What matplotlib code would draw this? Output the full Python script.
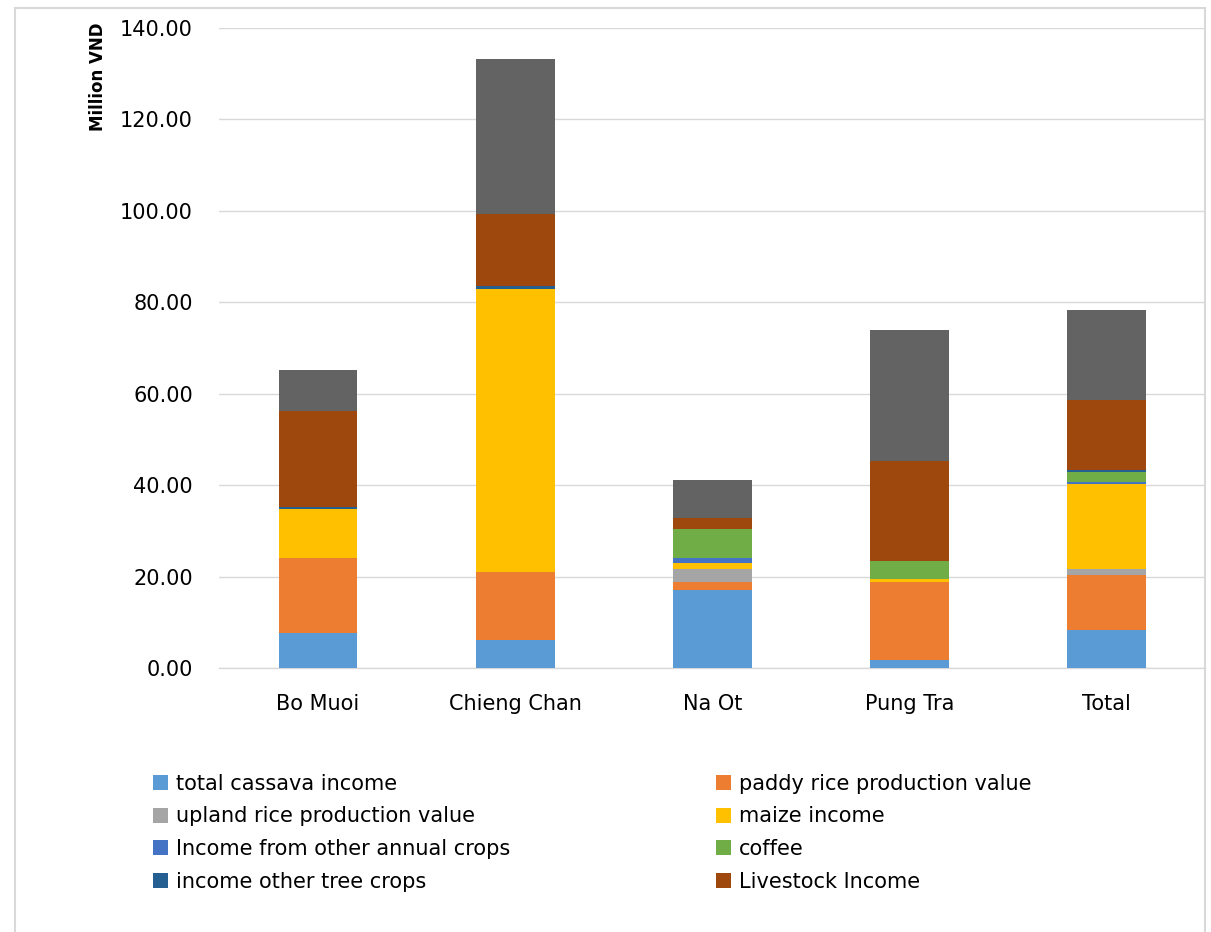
import numpy as np
import matplotlib
matplotlib.use("Agg")
from matplotlib import pyplot as plt
from matplotlib.patches import Rectangle, Patch

# 数据 (Million VND)
communes = ["Bo Muoi", "Chieng Chan", "Na Ot", "Pung Tra", "Total"]
cassava = [7.6, 6.2, 17.1, 1.8, 8.2]
paddy_rice = [16.5, 14.7, 1.7, 17.0, 12.2]
upland_rice = [0.0, 0.0, 2.9, 0.0, 1.2]
maize = [10.6, 61.9, 1.2, 0.6, 18.7]
other_annual = [0.0, 0.0, 1.2, 0.0, 0.3]
coffee = [0.0, 0.0, 6.4, 4.1, 2.3]
other_tree = [0.6, 0.7, 0.0, 0.0, 0.5]
livestock = [21.0, 15.9, 2.4, 21.8, 15.3]
other_income = [8.8, 33.9, 8.2, 28.6, 19.7]

series = [
    ("total cassava income", cassava, "#5B9BD5"),
    ("paddy rice production value", paddy_rice, "#ED7D31"),
    ("upland rice production value", upland_rice, "#A5A5A5"),
    ("maize income", maize, "#FFC000"),
    ("Income from other annual crops", other_annual, "#4472C4"),
    ("coffee", coffee, "#70AD47"),
    ("income other tree crops", other_tree, "#255E91"),
    ("Livestock Income", livestock, "#9E480E"),
    ("other income", other_income, "#636363"),
]

plt.rcParams["font.family"] = ["DejaVu Sans"]

fig = plt.figure(figsize=(12.11, 9.32), dpi=100)
ax = fig.add_axes([0.1812, 0.2833, 0.814, 0.6867])

x = np.arange(len(communes))
bottom = np.zeros(len(communes))
handles = []
for name, vals, color in series:
    vals = np.asarray(vals)
    ax.bar(x, vals, width=0.4, bottom=bottom, color=color, zorder=3)
    bottom += vals
    handles.append(Patch(facecolor=color, label=name))

ax.set_xlim(-0.5, 4.5)
ax.set_ylim(0, 140)
ax.set_yticks(np.arange(0, 141, 20))
ax.set_yticklabels([f"{v:.2f}" for v in np.arange(0, 141, 20)])
ax.set_xticks(x)
ax.set_xticklabels(communes)
ax.tick_params(axis="both", length=0, labelsize=15, colors="#000000")
ax.tick_params(axis="y", pad=19)
ax.tick_params(axis="x", pad=19)
ax.grid(axis="y", color="#D9D9D9", linewidth=1, zorder=0)
for s in ["top", "right", "left"]:
    ax.spines[s].set_visible(False)
ax.spines["bottom"].set_color("#D9D9D9")
ax.spines["bottom"].set_linewidth(1)

fig.text(98 / 1211, 1 - 77 / 932, "Million VND", rotation=90, ha="center",
         va="center", fontsize=12, fontweight="bold")

# 图例 (两列, 按行排列)
leg_kw = dict(frameon=False, fontsize=15, handlelength=0.7, handleheight=0.7,
              handletextpad=0.4, labelspacing=0.6, borderaxespad=0, borderpad=0,
              loc="upper left")
leg1 = fig.legend(handles=[handles[0], handles[2], handles[4], handles[6]],
                  bbox_to_anchor=(153 / 1211, 1 - 774 / 932), **leg_kw)
leg2 = fig.legend(handles=[handles[1], handles[3], handles[5], handles[7]],
                  bbox_to_anchor=(716 / 1211, 1 - 774 / 932), **leg_kw)

# 外框
fig.patches.append(Rectangle((15 / 1211, -0.01), 1190 / 1211, 1 - 8 / 932 + 0.01,
                             transform=fig.transFigure, fill=False,
                             edgecolor="#D9D9D9", linewidth=1.5))

fig.savefig("out.png", dpi=100)
